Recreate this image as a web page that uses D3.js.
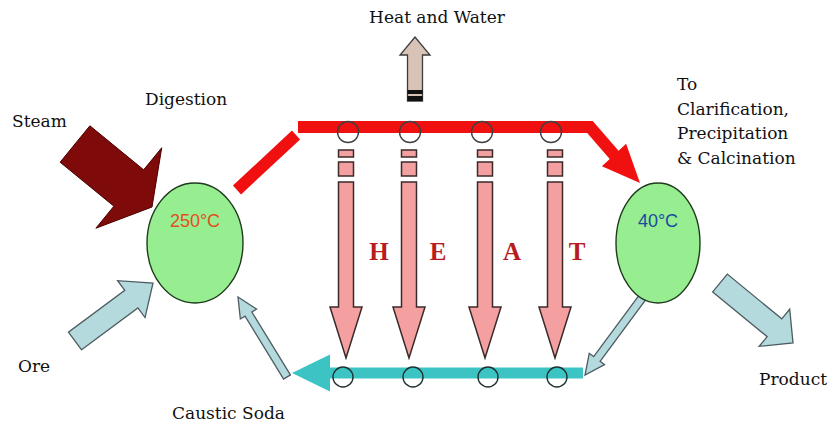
<!DOCTYPE html>
<html>
<head>
<meta charset="utf-8">
<script src="https://cdn.jsdelivr.net/npm/d3@7"></script>
<style>
  body { margin: 0; background: #fff; }
  svg { display: block; }
  .lbl { font-family: 'DejaVu Serif', serif; font-size: 17px; fill: #111; }
  .temp { font-family: 'Liberation Sans', Arial, sans-serif; font-size: 18px; }
  .heat { font-family: 'Liberation Serif', serif; font-weight: bold; font-size: 25px; fill: #b81c1c; }
</style>
</head>
<body>
<svg id="diagram"></svg>
<script>
// diagram coordinates (in 827 x 426 units)
const vessels = [
    { name: 'digester', cx: 195, cy: 243, rx: 48, ry: 60, temp: '250°C', color: '#e0501e' },
    { name: 'cooler', cx: 658, cy: 243, rx: 42, ry: 60, temp: '40°C', color: '#1a4aa0' },
];
const topValveX = [348, 410, 482, 551];
const heatArrowX = [346, 409, 485, 555];
const bottomValveX = [343, 413, 488, 557];
const heatLetters = ['H', 'E', 'A', 'T'];
const heatLetterX = [379, 438, 512, 577];

// block arrows: [tailX, tailY, tipX, tipY, shaftW, headW, headL]
const steamArrow = [75, 144, 152, 207, 47, 104, 30];
const oreArrow = [75, 341, 153, 283, 22, 46, 27];
const causticArrow = [287, 377, 238, 297, 8, 19, 20];
const returnArrow = [642, 298, 585, 375, 8, 19, 20];
const productArrow = [720, 283, 793, 343, 23, 48, 24];
const ventArrow = [415, 101, 415, 37, 15, 30, 18];
const coldPipe = [583, 373, 292, 373, 11, 37, 38];
const hotPipe = [[298, 127], [590, 127], [616, 157]];
const hotRiser = [[237, 190], [296, 135]];
const hotHead = [614, 155, 640, 183, 33];

const labels = [
    { text: 'Heat and Water', x: 437, y: 23, anchor: 'middle' },
    { text: 'Digestion', x: 145, y: 105, anchor: 'start' },
    { text: 'Steam', x: 12, y: 127, anchor: 'start' },
    { text: 'To', x: 677, y: 90, anchor: 'start' },
    { text: 'Clarification,', x: 677, y: 114.5, anchor: 'start' },
    { text: 'Precipitation', x: 677, y: 139, anchor: 'start' },
    { text: '& Calcination', x: 677, y: 163.5, anchor: 'start' },
    { text: 'Ore', x: 18, y: 372, anchor: 'start' },
    { text: 'Caustic Soda', x: 172, y: 419, anchor: 'start' },
    { text: 'Product', x: 759, y: 385, anchor: 'start' },
];

const width = 827;
const height = 426;

const x = d3.scaleLinear().domain([0, 827]).range([0, width]);
const y = d3.scaleLinear().domain([0, 426]).range([0, height]);

const svg = d3.select('#diagram')
    .attr('width', width)
    .attr('height', height);

function blockArrow(a) {
    const [tx, ty, hx, hy, shaftW, headW, headL] = a;
    const dx = hx - tx, dy = hy - ty, len = Math.hypot(dx, dy);
    const ux = dx / len, uy = dy / len, px = -uy, py = ux;
    const bx = hx - ux * headL, by = hy - uy * headL;
    const off = (ox, oy, s) => [x(ox + px * s), y(oy + py * s)];
    return d3.line()([
        off(tx, ty, shaftW / 2), off(bx, by, shaftW / 2), off(bx, by, headW / 2),
        [x(hx), y(hy)],
        off(bx, by, -headW / 2), off(bx, by, -shaftW / 2), off(tx, ty, -shaftW / 2),
    ]) + 'Z';
}

function triangle(a) {
    const [bx, by, hx, hy, w] = a;
    const dx = hx - bx, dy = hy - by, len = Math.hypot(dx, dy);
    const px = -dy / len, py = dx / len;
    return d3.line()([
        [x(bx + px * w / 2), y(by + py * w / 2)], [x(hx), y(hy)],
        [x(bx - px * w / 2), y(by - py * w / 2)],
    ]) + 'Z';
}

const line = d3.line().x(d => x(d[0])).y(d => y(d[1]));

// hot liquor pipe (red)
svg.append('path')
    .attr('d', line(hotRiser))
    .attr('fill', 'none')
    .attr('stroke', '#f01010')
    .attr('stroke-width', 12);
svg.append('path')
    .attr('d', line(hotPipe))
    .attr('fill', 'none')
    .attr('stroke', '#f01010')
    .attr('stroke-width', 12)
    .attr('stroke-linejoin', 'miter');
svg.append('path')
    .attr('d', triangle(hotHead))
    .attr('fill', '#f01010');

// cold return pipe (teal)
svg.append('path')
    .attr('d', blockArrow(coldPipe))
    .attr('fill', '#3cc4c4');

// heat transfer arrows
const heat = svg.append('g').attr('class', 'heat-arrows');
heat.selectAll('.stub1')
    .data(heatArrowX)
    .enter()
    .append('rect')
    .attr('x', d => x(d - 7.5))
    .attr('y', y(150))
    .attr('width', x(15) - x(0))
    .attr('height', y(7) - y(0))
    .attr('fill', '#f4a0a0')
    .attr('stroke', '#3a2a2a')
    .attr('stroke-width', 1.5);
heat.selectAll('.stub2')
    .data(heatArrowX)
    .enter()
    .append('rect')
    .attr('x', d => x(d - 7.5))
    .attr('y', y(162))
    .attr('width', x(15) - x(0))
    .attr('height', y(14) - y(0))
    .attr('fill', '#f4a0a0')
    .attr('stroke', '#3a2a2a')
    .attr('stroke-width', 1.5);
heat.selectAll('.down')
    .data(heatArrowX)
    .enter()
    .append('path')
    .attr('d', d => blockArrow([d, 182, d, 358, 15, 32, 51]))
    .attr('fill', '#f4a0a0')
    .attr('stroke', '#3a2a2a')
    .attr('stroke-width', 1.5)
    .attr('stroke-linejoin', 'miter');

// valves on both pipes
svg.selectAll('.valve-top')
    .data(topValveX)
    .enter()
    .append('circle')
    .attr('cx', d => x(d))
    .attr('cy', y(132))
    .attr('r', 10.5)
    .attr('fill', 'none')
    .attr('stroke', '#404040')
    .attr('stroke-width', 1.4);
svg.selectAll('.valve-bottom')
    .data(bottomValveX)
    .enter()
    .append('circle')
    .attr('cx', d => x(d))
    .attr('cy', y(377))
    .attr('r', 10)
    .attr('fill', 'none')
    .attr('stroke', '#203030')
    .attr('stroke-width', 1.4);

// HEAT letters
svg.selectAll('.heat')
    .data(heatLetters)
    .enter()
    .append('text')
    .attr('class', 'heat')
    .attr('x', (d, i) => x(heatLetterX[i]))
    .attr('y', y(260))
    .attr('text-anchor', 'middle')
    .text(d => d);

// steam in
svg.append('path')
    .attr('d', blockArrow(steamArrow))
    .attr('fill', '#7f0a0a')
    .attr('stroke', '#4a0000')
    .attr('stroke-width', 1);

// light blue feed / product arrows
svg.selectAll('.feed')
    .data([oreArrow, causticArrow, returnArrow, productArrow])
    .enter()
    .append('path')
    .attr('d', blockArrow)
    .attr('fill', '#b4dade')
    .attr('stroke', '#4d5c60')
    .attr('stroke-width', 1.3)
    .attr('stroke-linejoin', 'miter');

// heat and water vent
svg.append('path')
    .attr('d', blockArrow(ventArrow))
    .attr('fill', '#d9c2b6')
    .attr('stroke', '#3c3c3c')
    .attr('stroke-width', 1.3);
svg.append('rect')
    .attr('x', x(407.5)).attr('y', y(90))
    .attr('width', x(15) - x(0)).attr('height', y(4) - y(0))
    .attr('fill', '#111');
svg.append('rect')
    .attr('x', x(407.5)).attr('y', y(96))
    .attr('width', x(15) - x(0)).attr('height', y(5) - y(0))
    .attr('fill', '#111');

// vessels
const vessel = svg.selectAll('.vessel')
    .data(vessels)
    .enter()
    .append('g')
    .attr('class', 'vessel');
vessel.append('ellipse')
    .attr('cx', d => x(d.cx))
    .attr('cy', d => y(d.cy))
    .attr('rx', d => x(d.rx) - x(0))
    .attr('ry', d => y(d.ry) - y(0))
    .attr('fill', '#96ee90')
    .attr('stroke', '#1f3a1f')
    .attr('stroke-width', 1.4);
vessel.append('text')
    .attr('class', 'temp')
    .attr('x', d => x(d.cx))
    .attr('y', y(227))
    .attr('text-anchor', 'middle')
    .style('fill', d => d.color)
    .text(d => d.temp);

// labels
svg.selectAll('.lbl')
    .data(labels)
    .enter()
    .append('text')
    .attr('class', 'lbl')
    .attr('x', d => x(d.x))
    .attr('y', d => y(d.y))
    .attr('text-anchor', d => d.anchor)
    .text(d => d.text);
</script>
</body>
</html>
